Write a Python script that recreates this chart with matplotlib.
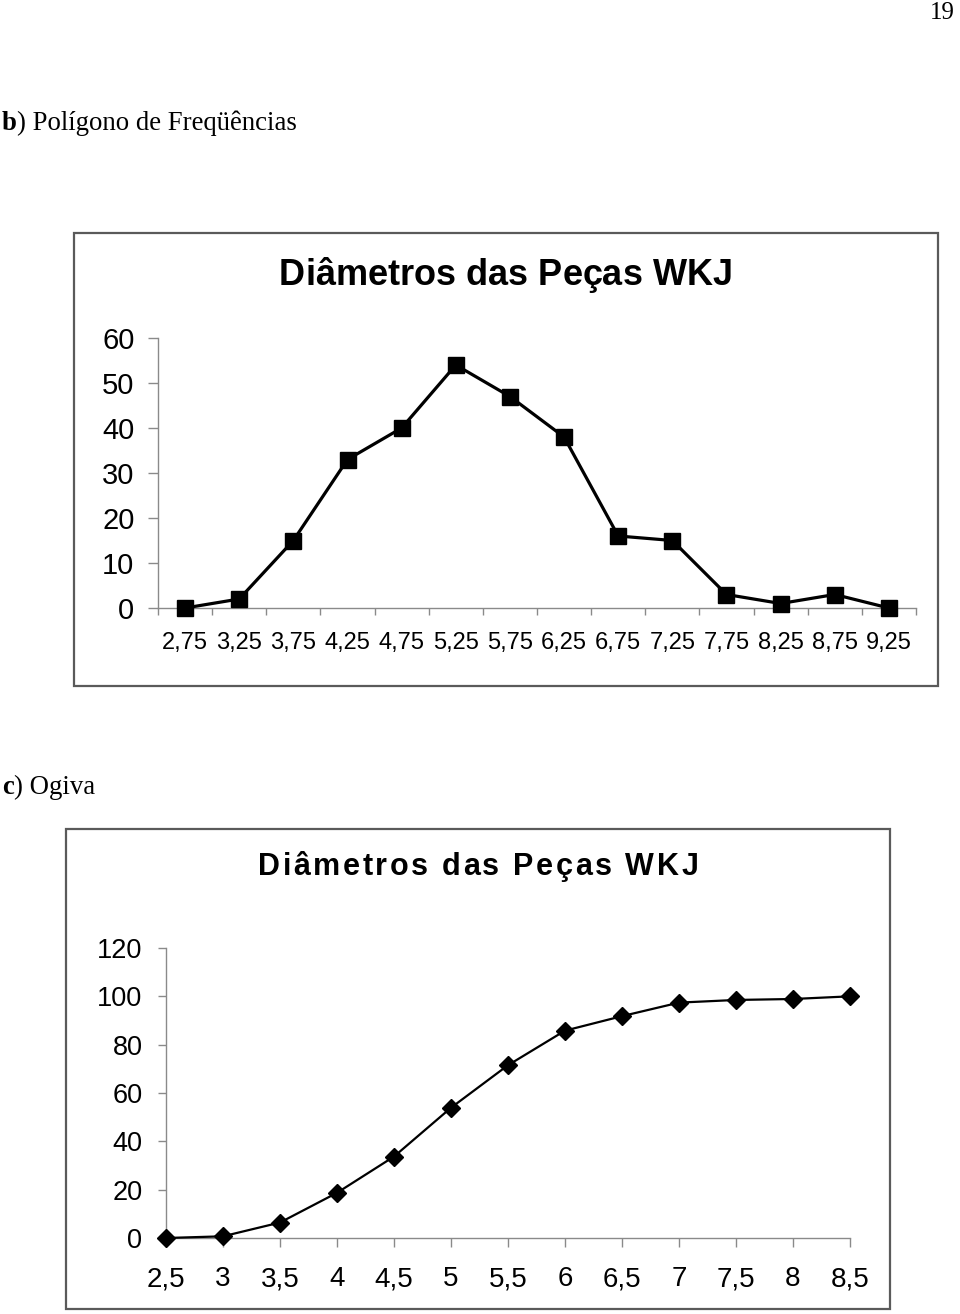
#===============================================================================
import matplotlib
matplotlib.use("Agg")
import matplotlib.pyplot as plt
from matplotlib import font_manager
from matplotlib.ft2font import FT2Font
from matplotlib.patches import Rectangle

#===============================================================================
# data
polig_labels = ["2,75", "3,25", "3,75", "4,25", "4,75", "5,25", "5,75",
                "6,25", "6,75", "7,25", "7,75", "8,25", "8,75", "9,25"]
polig_freq = [0, 2, 15, 33, 40, 54, 47, 38, 16, 15, 3, 1, 3, 0]
polig_yticks = [0, 10, 20, 30, 40, 50, 60]

ogiva_x = [2.5, 3.0, 3.5, 4.0, 4.5, 5.0, 5.5, 6.0, 6.5, 7.0, 7.5, 8.0, 8.5]
ogiva_pct = [0, 0.7, 6.4, 18.7, 33.7, 53.9, 71.5, 85.8, 91.8, 97.4, 98.5, 98.9, 100]
ogiva_labels = ["2,5", "3", "3,5", "4", "4,5", "5", "5,5",
                "6", "6,5", "7", "7,5", "8", "8,5"]
ogiva_yticks = [0, 20, 40, 60, 80, 100, 120]

title = "Diâmetros das Peças WKJ"

#===============================================================================
W, H, DPI = 960, 1314, 100
AXIS_GREY = "#8a8a8a"
FRAME_GREY = "#5a5a5a"

fig = plt.figure(figsize=(W / DPI, H / DPI), dpi=DPI)
fig.patch.set_facecolor("white")


def fx(px):
    return px / W


def fy(py):
    return 1 - py / H


def advances(text, family, size, weight="normal"):
    path = font_manager.findfont(font_manager.FontProperties(family=family, weight=weight))
    font = FT2Font(path)
    font.set_size(size, DPI)
    return [font.load_char(ord(c)).linearHoriAdvance / 65536 for c in text]


def spaced_text(text, x_center, baseline, size, extra, family="Liberation Sans"):
    adv = advances(text, family, size, "bold")
    total = sum(adv) + extra * (len(text) - 1)
    x = x_center - total / 2
    for c, a in zip(text, adv):
        fig.text(fx(x), fy(baseline), c, fontsize=size, fontweight="bold",
                 family=family, ha="left", va="baseline")
        x += a + extra


def frame(x0, y0, x1, y1):
    fig.add_artist(Rectangle((fx(x0), fy(y1)), fx(x1) - fx(x0), fy(y0) - fy(y1),
                             transform=fig.transFigure, fill=False,
                             edgecolor=FRAME_GREY, linewidth=1.6))


def style_axes(ax):
    ax.set_facecolor("none")
    for side in ("top", "right"):
        ax.spines[side].set_visible(False)
    for side in ("left", "bottom"):
        ax.spines[side].set_color(AXIS_GREY)
        ax.spines[side].set_linewidth(1.0)


#===============================================================================
# page text
serif = "Liberation Serif"
fig.text(fx(955), fy(2), "19", family=serif, fontsize=18, ha="right", va="top")

b_w = sum(advances("b", serif, 19.3, "bold"))
fig.text(fx(2), fy(130), "b", family=serif, fontsize=19.3, fontweight="bold", va="baseline")
fig.text(fx(2 + b_w), fy(130), ") Polígono de Freqüências", family=serif,
         fontsize=19.3, va="baseline")

c_w = sum(advances("c", serif, 19.3, "bold"))
fig.text(fx(2), fy(794), "c", family=serif, fontsize=19.3, fontweight="bold", va="baseline")
fig.text(fx(2 + c_w), fy(794), ") Ogiva", family=serif, fontsize=19.3, va="baseline")

#===============================================================================
# b) polygon of frequencies
frame(74, 233, 938, 686)
spaced_text(title, 506, 285, 26, 0)

ax1 = fig.add_axes([fx(158), fy(608), fx(916) - fx(158), fy(338) - fy(608)])
style_axes(ax1)
pos = list(range(len(polig_freq)))
ax1.plot(pos, polig_freq, color="black", linewidth=2.3, marker="s",
         markersize=11.5, clip_on=False, zorder=3)
ax1.set_xlim(-0.5, len(polig_freq) - 0.5)
ax1.set_ylim(0, 60)
ax1.set_yticks(polig_yticks)
ax1.set_yticklabels([str(v) for v in polig_yticks], family="Liberation Sans", fontsize=21)
ax1.tick_params(axis="y", direction="out", length=7, width=1, color=AXIS_GREY, pad=10)
ax1.set_xticks([p - 0.5 for p in pos] + [pos[-1] + 0.5])
ax1.set_xticklabels([])
ax1.tick_params(axis="x", which="major", direction="out", length=5, width=1, color=AXIS_GREY)
ax1.set_xticks(pos, minor=True)
ax1.set_xticklabels(polig_labels, minor=True, family="Liberation Sans", fontsize=17)
ax1.tick_params(axis="x", which="minor", length=0, pad=17)

#===============================================================================
# c) ogive
frame(66, 829, 890, 1309)
spaced_text(title, 478, 875, 22, 2.6)

ax2 = fig.add_axes([fx(166), fy(1238), fx(850) - fx(166), fy(948) - fy(1238)])
style_axes(ax2)
ax2.plot(ogiva_x, ogiva_pct, color="black", linewidth=1.6, marker="D",
         markersize=9, clip_on=False, zorder=3)
ax2.set_xlim(ogiva_x[0], ogiva_x[-1])
ax2.set_ylim(0, 120)
ax2.set_yticks(ogiva_yticks)
ax2.set_yticklabels([str(v) for v in ogiva_yticks], family="Liberation Sans", fontsize=19.5)
ax2.tick_params(axis="y", direction="out", length=6, width=1, color=AXIS_GREY, pad=11)
ax2.set_xticks(ogiva_x)
ax2.set_xticklabels(ogiva_labels, family="Liberation Sans", fontsize=20)
ax2.tick_params(axis="x", direction="out", length=6.5, width=1, color=AXIS_GREY, pad=14)

fig.savefig("out.png", dpi=DPI, facecolor="white")
